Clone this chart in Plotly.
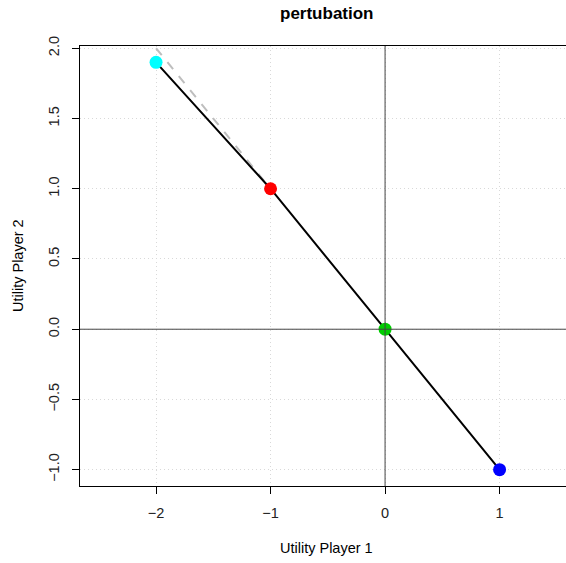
import plotly.graph_objects as go

# Utility outcomes for the two players
u1 = [-2, -1, 0, 1]
u2 = [1.9, 1.0, 0.0, -1.0]
point_colors = ["#00FFFF", "#FF0000", "#00CD00", "#0000FF"]

# Unperturbed reference segment
ref_u1 = [-2, -1]
ref_u2 = [2.0, 1.0]

x_ticks = [-2, -1, 0, 1]
x_ticktext = ["\u22122", "\u22121", "0", "1"]
y_ticks = [-1.0, -0.5, 0.0, 0.5, 1.0, 1.5, 2.0]
y_ticktext = ["\u22121.0", "\u22120.5", "0.0", "0.5", "1.0", "1.5", "2.0"]

font = "Liberation Sans, Arial, sans-serif"

fig = go.Figure()

# Axes through the origin
fig.add_shape(type="line", xref="x", yref="paper", x0=0, x1=0, y0=0, y1=1,
              line=dict(color="#444444", width=1))
fig.add_shape(type="line", xref="paper", yref="y", x0=0, x1=1, y0=0, y1=0,
              line=dict(color="#444444", width=1))

fig.add_trace(go.Scatter(x=ref_u1, y=ref_u2, mode="lines",
                         line=dict(color="#BEBEBE", width=2, dash="dash"),
                         hoverinfo="skip", showlegend=False))
fig.add_trace(go.Scatter(x=u1, y=u2, mode="lines",
                         line=dict(color="black", width=2),
                         showlegend=False))
fig.add_trace(go.Scatter(x=u1, y=u2, mode="markers",
                         marker=dict(color=point_colors, size=13, line=dict(width=0)),
                         showlegend=False))

fig.update_layout(
    width=566, height=563,
    margin=dict(l=80, r=0, t=46, b=77),
    plot_bgcolor="white", paper_bgcolor="white",
    font=dict(family=font, size=14, color="black"),
    annotations=[
        dict(text="<b>pertubation</b>", xref="paper", yref="paper", x=0.508, y=1,
             yshift=33, showarrow=False, font=dict(size=17, family=font),
             xanchor="center", yanchor="middle"),
        dict(text="Utility Player 1", xref="paper", yref="paper", x=0.508, y=0,
             yshift=-62, showarrow=False, font=dict(size=14.5, family=font),
             xanchor="center", yanchor="middle"),
        dict(text="Utility Player 2", xref="paper", yref="paper", x=0, y=0.5,
             xshift=-62, showarrow=False, textangle=-90,
             font=dict(size=14.5, family=font), xanchor="center", yanchor="middle"),
    ],
)

grid = dict(showgrid=True, gridcolor="#D9D9D9", griddash="1px,3px", gridwidth=1)

fig.update_xaxes(
    range=[-2.664, 1.58], tickvals=x_ticks, ticktext=x_ticktext, **grid,
    zeroline=False, showline=True, mirror=True, linecolor="black", linewidth=1,
    ticks="outside", ticklen=7, tickcolor="black", ticklabelstandoff=7,
    tickfont=dict(size=14.5, family=font, color="#222"),
)
fig.update_yaxes(
    range=[-1.116, 2.016], tickvals=y_ticks, ticktext=y_ticktext, **grid,
    zeroline=False, showline=True, mirror=False, linecolor="black", linewidth=1,
    ticks="outside", ticklen=7, tickcolor="black", tickangle=-90,
    ticklabelstandoff=7,
    tickfont=dict(size=14.5, family=font, color="#222"),
)

fig.write_html("out.html")
